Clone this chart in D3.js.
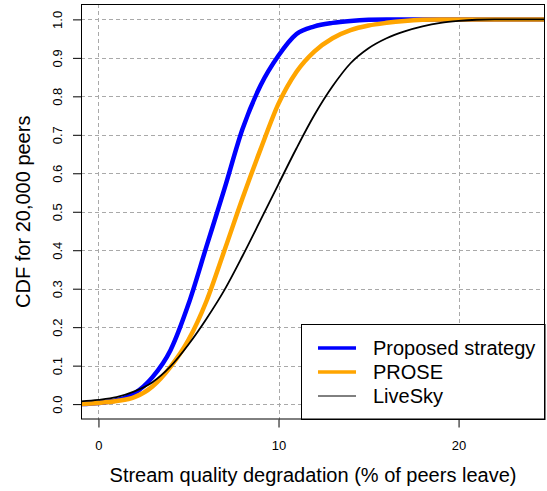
<!DOCTYPE html>
<html>
<head>
<meta charset="utf-8">
<script src="https://cdn.jsdelivr.net/npm/d3@7"></script>
<style>
  html, body { margin: 0; padding: 0; background: #fff; }
  svg { display: block; font-family: "Liberation Sans", Arial, Helvetica, sans-serif; }
</style>
</head>
<body>
<svg id="chart" width="547" height="491"></svg>
<script>
// Stream quality degradation (% of peers that leave) at which each CDF is sampled
const degradation = [-1, 0, 1, 2, 3, 4, 5, 6, 7, 8, 9, 10, 11, 12, 13, 14, 15, 16, 17, 18, 19, 20, 21, 22, 25];

// CDF over 20,000 peers for each strategy
const proposed = [0, 0.003, 0.010, 0.028, 0.070, 0.140, 0.260, 0.410, 0.560, 0.715, 0.828, 0.906, 0.962, 0.982, 0.991, 0.996, 0.999, 1, 1, 1, 1, 1, 1, 1, 1];
const prose    = [0, 0.003, 0.008, 0.018, 0.046, 0.097, 0.167, 0.268, 0.400, 0.535, 0.662, 0.781, 0.864, 0.917, 0.951, 0.972, 0.984, 0.991, 0.996, 0.999, 1, 1, 1, 1, 1];
const livesky  = [0.007, 0.011, 0.018, 0.033, 0.057, 0.098, 0.155, 0.222, 0.297, 0.385, 0.478, 0.572, 0.665, 0.752, 0.826, 0.886, 0.925, 0.951, 0.969, 0.982, 0.991, 0.996, 0.999, 1, 1];

const seriesNames = ["Proposed strategy", "PROSE", "LiveSky"];
const xTicks = [0, 10, 20];
const yTicks = [0, 0.1, 0.2, 0.3, 0.4, 0.5, 0.6, 0.7, 0.8, 0.9, 1.0];
const xTitle = "Stream quality degradation (% of peers leave)";
const yTitle = "CDF for 20,000 peers";

const box = { left: 81, top: 4, right: 545, bottom: 419.5 };

const svg = d3.select("#chart");

const x = d3.scaleLinear().domain([-0.97, 24.8]).range([box.left, box.right]);
const y = d3.scaleLinear().domain([-0.04, 1.04]).range([box.bottom, box.top]);

svg.append("rect").attr("width", 547).attr("height", 491).attr("fill", "#fff");

svg.append("defs").append("clipPath").attr("id", "plot-clip")
  .append("rect")
  .attr("x", box.left).attr("y", box.top)
  .attr("width", box.right - box.left).attr("height", box.bottom - box.top);

// dashed reference grid
const grid = svg.append("g").attr("stroke", "#a9a9a9").attr("stroke-width", 1).attr("stroke-dasharray", "4,3");
grid.selectAll("line.h").data(yTicks).join("line")
  .attr("class", "h")
  .attr("x1", box.left).attr("x2", box.right)
  .attr("y1", d => Math.round(y(d)) + 0.5).attr("y2", d => Math.round(y(d)) + 0.5);
grid.selectAll("line.v").data(xTicks).join("line")
  .attr("class", "v")
  .attr("y1", box.top).attr("y2", box.bottom)
  .attr("x1", d => Math.round(x(d)) + 0.5).attr("x2", d => Math.round(x(d)) + 0.5);

// CDF curves
const series = [
  { name: seriesNames[0], values: proposed, color: "#0000ff", width: 4.5 },
  { name: seriesNames[1], values: prose,    color: "#ffa500", width: 4.5 },
  { name: seriesNames[2], values: livesky,  color: "#000000", width: 1.8 }
];

const line = d3.line()
  .x(d => x(d[0]))
  .y(d => y(d[1]))
  .curve(d3.curveMonotoneX);

svg.append("g").attr("clip-path", "url(#plot-clip)")
  .selectAll("path").data(series).join("path")
  .attr("fill", "none")
  .attr("stroke", d => d.color)
  .attr("stroke-width", d => d.width)
  .attr("stroke-linejoin", "round")
  .attr("d", d => line(degradation.map((v, i) => [v, d.values[i]])));

// axes
const xAxis = svg.append("g")
  .attr("transform", `translate(0,${box.bottom})`)
  .call(d3.axisBottom(x).tickValues(xTicks).tickSize(8).tickFormat(d3.format("d")));
xAxis.select(".domain").remove();
xAxis.selectAll(".tick line").attr("stroke", "#000");
xAxis.selectAll(".tick text")
  .attr("y", 30).attr("dy", 0)
  .attr("font-size", 13).attr("font-family", "Liberation Sans, Arial, sans-serif")
  .attr("fill", "#000");

const yAxis = svg.append("g")
  .attr("transform", `translate(${box.left},0)`)
  .call(d3.axisLeft(y).tickValues(yTicks).tickSize(8).tickFormat(d3.format(".1f")));
yAxis.select(".domain").remove();
yAxis.selectAll(".tick line").attr("stroke", "#000");
yAxis.selectAll(".tick text")
  .attr("transform", "rotate(-90)")
  .attr("x", 0).attr("y", -19.5).attr("dy", 0)
  .attr("text-anchor", "middle")
  .attr("font-size", 13).attr("font-family", "Liberation Sans, Arial, sans-serif")
  .attr("fill", "#000");

// legend, bottom-right inside the plot box
const legend = svg.append("g");
legend.append("rect")
  .attr("x", 301.5).attr("y", 324.5)
  .attr("width", box.right - 301.5).attr("height", box.bottom - 324.5)
  .attr("fill", "#fff").attr("stroke", "#000").attr("stroke-width", 1);
const legendRows = [
  { name: seriesNames[0], color: "#0000ff", width: 3.5, dy: 348 },
  { name: seriesNames[1], color: "#ffa500", width: 3.5, dy: 372 },
  { name: seriesNames[2], color: "#000000", width: 1,   dy: 396 }
];
legendRows.forEach(r => {
  legend.append("line")
    .attr("x1", 318).attr("x2", 356)
    .attr("y1", r.dy).attr("y2", r.dy)
    .attr("stroke", r.color).attr("stroke-width", r.width);
  legend.append("text")
    .attr("x", 373).attr("y", r.dy + 7.3)
    .attr("font-size", 20).attr("fill", "#000")
    .text(r.name);
});

// plot frame
svg.append("rect")
  .attr("x", box.left + 0.5).attr("y", box.top + 0.5)
  .attr("width", box.right - box.left - 1).attr("height", box.bottom - box.top - 1)
  .attr("fill", "none").attr("stroke", "#000").attr("stroke-width", 1);

// axis titles
svg.append("text")
  .attr("x", (box.left + box.right) / 2).attr("y", 481.5)
  .attr("text-anchor", "middle").attr("font-size", 20).attr("fill", "#000")
  .text(xTitle);
svg.append("text")
  .attr("transform", `translate(30,${(box.top + box.bottom) / 2}) rotate(-90)`)
  .attr("text-anchor", "middle").attr("font-size", 20).attr("fill", "#000")
  .text(yTitle);
</script>
</body>
</html>
